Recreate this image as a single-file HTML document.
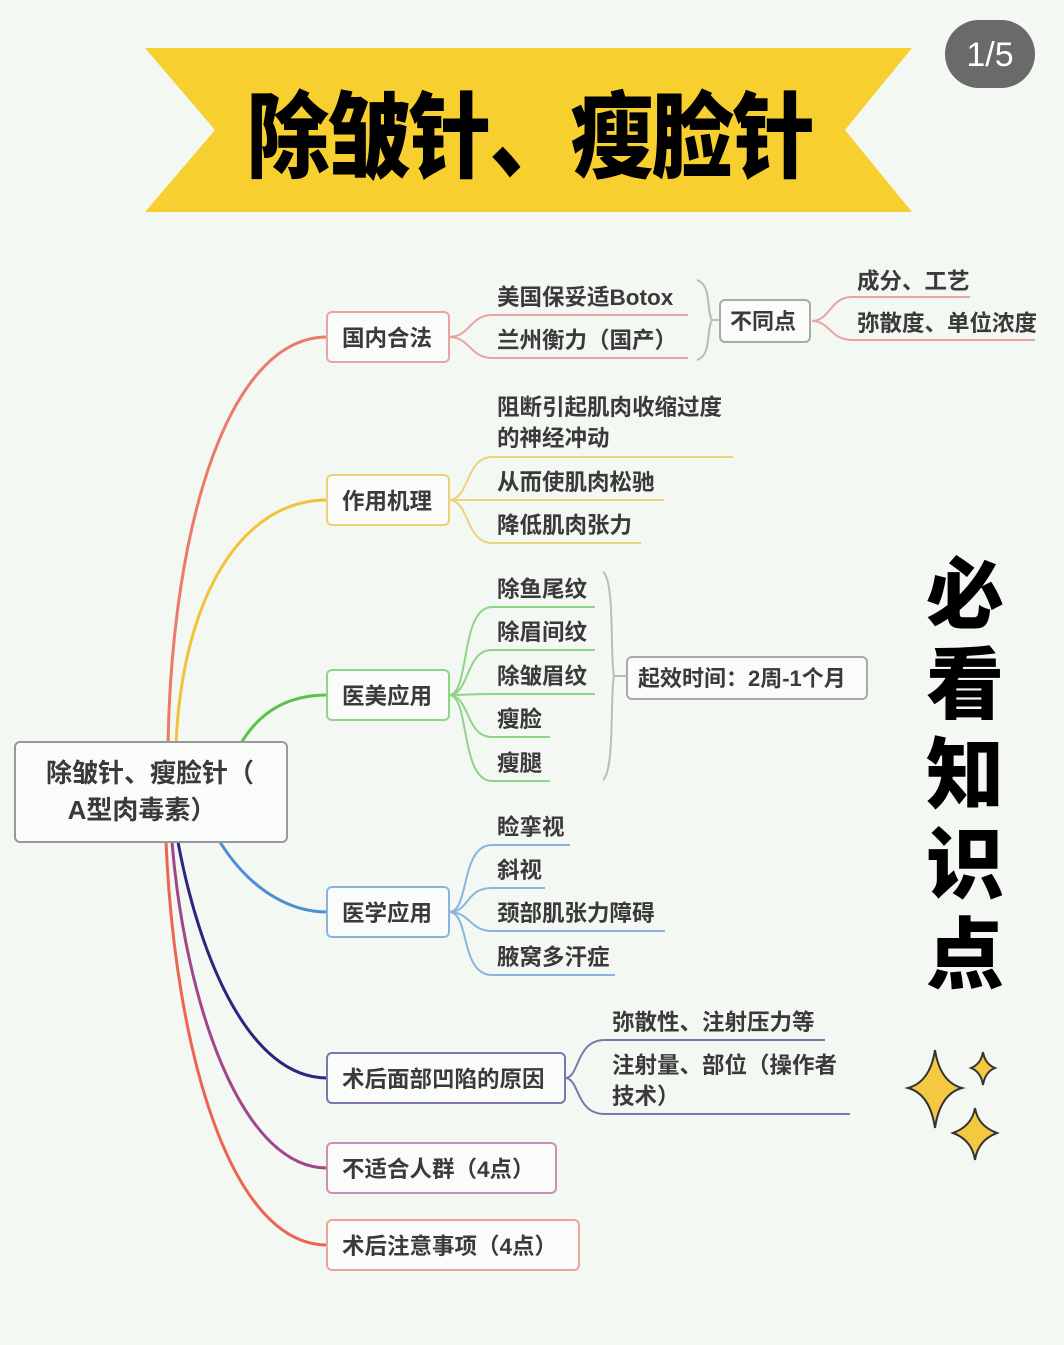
<!DOCTYPE html>
<html><head><meta charset="utf-8"><style>
html,body{margin:0;padding:0;background:#f4f8f3;}
svg{display:block;}
text{font-family:"Liberation Sans","Noto Sans CJK SC",sans-serif;fill:#3a3a3a;font-weight:bold;}
</style></head><body>
<svg width="1064" height="1345" viewBox="0 0 1064 1345" xmlns="http://www.w3.org/2000/svg">
<rect width="1064" height="1345" fill="#f4f8f3"/>
<!-- banner -->
<polygon points="145,48 912,48 845,130 912,212 145,212 215,130" fill="#f7cf2f"/>
<g transform="translate(530,0) scale(0.88,1)">
<text x="0" y="170" text-anchor="middle" font-size="94" style="fill:#000;font-weight:900;letter-spacing:-2px">除皱针、瘦脸针</text>
</g>
<rect x="945" y="20" width="90" height="68" rx="34" fill="#6a6a6a"/>
<text x="990" y="66" text-anchor="middle" font-size="34" style="fill:#fff;font-weight:normal">1/5</text>

<!-- root curves -->
<g fill="none" stroke-width="3">
<path d="M168,745 C172,520 230,337 327,337" stroke="#ec7a6a"/>
<path d="M176,745 C182,600 240,500 327,500" stroke="#f2c23a"/>
<path d="M240,745 C260,710 290,695 327,695" stroke="#5cc04e"/>
<path d="M220,842 C250,890 290,912 327,912" stroke="#4a8fd0"/>
<path d="M178,842 C200,960 250,1078 327,1078" stroke="#2b2580"/>
<path d="M172,842 C185,1000 240,1168 327,1168" stroke="#a2468c"/>
<path d="M166,842 C175,1050 230,1245 327,1245" stroke="#ec6552"/>
</g>

<!-- root box -->
<rect x="15" y="742" width="272" height="100" rx="5" fill="#fafcfa" stroke="#999" stroke-width="2"/>
<text x="150" y="782" text-anchor="middle" font-size="26">除皱针、瘦脸针（</text>
<text x="142" y="819" text-anchor="middle" font-size="26">A型肉毒素）</text>

<!-- nodes -->
<g fill="#fafcfa" stroke-width="2">
<rect x="327" y="312" width="122" height="50" rx="5" stroke="#e8a4a0"/>
<rect x="327" y="475" width="122" height="50" rx="5" stroke="#ecd27a"/>
<rect x="327" y="670" width="122" height="50" rx="5" stroke="#8fd488"/>
<rect x="327" y="887" width="122" height="50" rx="5" stroke="#8ab4de"/>
<rect x="327" y="1053" width="238" height="50" rx="5" stroke="#7a78aa"/>
<rect x="327" y="1143" width="229" height="50" rx="5" stroke="#cc90b8"/>
<rect x="327" y="1220" width="252" height="50" rx="5" stroke="#eea298"/>
</g>
<g font-size="22.5">
<text x="342" y="346">国内合法</text>
<text x="342" y="509">作用机理</text>
<text x="342" y="704">医美应用</text>
<text x="342" y="921">医学应用</text>
<text x="342" y="1087">术后面部凹陷的原因</text>
<text x="342" y="1177">不适合人群（4点）</text>
<text x="342" y="1254">术后注意事项（4点）</text>
</g>

<!-- child connectors -->
<g fill="none" stroke-width="2">
<g stroke="#e8a4a0">
<path d="M449,337 C470,337 470,315 492,315 H688"/>
<path d="M449,337 C470,337 470,358 492,358 H688"/>
<path d="M812,321 C830,321 830,297 852,297 H970"/>
<path d="M812,321 C830,321 830,340 852,340 H1035"/>
</g>
<g stroke="#ecd27a">
<path d="M449,500 C470,500 465,457 492,457 H733"/>
<path d="M449,500 H664"/>
<path d="M449,500 C470,500 465,543 492,543 H641"/>
</g>
<g stroke="#8fd488">
<path d="M449,695 C470,695 460,607 492,607 H595"/>
<path d="M449,695 C470,695 465,650 492,650 H595"/>
<path d="M449,695 C470,695 470,694 492,694 H595"/>
<path d="M449,695 C470,695 465,737 492,737 H550"/>
<path d="M449,695 C470,695 460,781 492,781 H550"/>
</g>
<g stroke="#8ab4de">
<path d="M449,912 C470,912 460,845 492,845 H570"/>
<path d="M449,912 C470,912 465,888 492,888 H545"/>
<path d="M449,912 C470,912 470,931 492,931 H665"/>
<path d="M449,912 C470,912 460,975 492,975 H615"/>
</g>
<g stroke="#7a78aa">
<path d="M565,1078 C580,1078 575,1040 605,1040 H825"/>
<path d="M565,1078 C580,1078 575,1114 605,1114 H850"/>
</g>
<!-- braces -->
<path d="M697,280 C712,285 706,310 712,320 C706,330 712,355 697,360" stroke="#bbb"/>
<path d="M712,320 H720" stroke="#bbb"/>
<path d="M603,572 C615,580 610,660 614,676 C610,690 615,770 603,780" stroke="#bbb"/>
<path d="M614,676 H627" stroke="#bbb"/>
</g>

<rect x="720" y="300" width="90" height="42" rx="5" fill="#fafcfa" stroke="#aaa" stroke-width="2"/>
<text x="730" y="329" font-size="22">不同点</text>
<rect x="627" y="657" width="240" height="42" rx="5" fill="#fafcfa" stroke="#aaa" stroke-width="2"/>
<text x="638" y="686" font-size="22">起效时间：2周-1个月</text>

<g font-size="22.5">
<text x="497" y="305">美国保妥适Botox</text>
<text x="497" y="348">兰州衡力（国产）</text>
<text x="857" y="289">成分、工艺</text>
<text x="857" y="331">弥散度、单位浓度</text>
<text x="497" y="415">阻断引起肌肉收缩过度</text>
<text x="497" y="446">的神经冲动</text>
<text x="497" y="490">从而使肌肉松驰</text>
<text x="497" y="533">降低肌肉张力</text>
<text x="497" y="597">除鱼尾纹</text>
<text x="497" y="640">除眉间纹</text>
<text x="497" y="684">除皱眉纹</text>
<text x="497" y="727">瘦脸</text>
<text x="497" y="771">瘦腿</text>
<text x="497" y="835">睑挛视</text>
<text x="497" y="878">斜视</text>
<text x="497" y="921">颈部肌张力障碍</text>
<text x="497" y="965">腋窝多汗症</text>
<text x="612" y="1030">弥散性、注射压力等</text>
<text x="612" y="1073">注射量、部位（操作者</text>
<text x="612" y="1104">技术）</text>
</g>

<!-- vertical title -->
<g font-size="78" text-anchor="middle">
<text x="965" y="622" style="fill:#000;font-weight:900">必</text>
<text x="965" y="712" style="fill:#000;font-weight:900">看</text>
<text x="965" y="802" style="fill:#000;font-weight:900">知</text>
<text x="965" y="892" style="fill:#000;font-weight:900">识</text>
<text x="965" y="982" style="fill:#000;font-weight:900">点</text>
</g>

<!-- sparkles -->
<g fill="#f5c842" stroke="#333" stroke-width="2">
<path d="M935,1050 Q940,1082 962,1088 Q940,1094 935,1128 Q930,1094 908,1088 Q930,1082 935,1050Z"/>
<path d="M983,1052 Q985,1064 995,1068 Q985,1072 983,1085 Q981,1072 971,1068 Q981,1064 983,1052Z"/>
<path d="M975,1108 Q978,1126 997,1133 Q978,1140 975,1160 Q972,1140 953,1133 Q972,1126 975,1108Z"/>
</g>
</svg>
</body></html>
